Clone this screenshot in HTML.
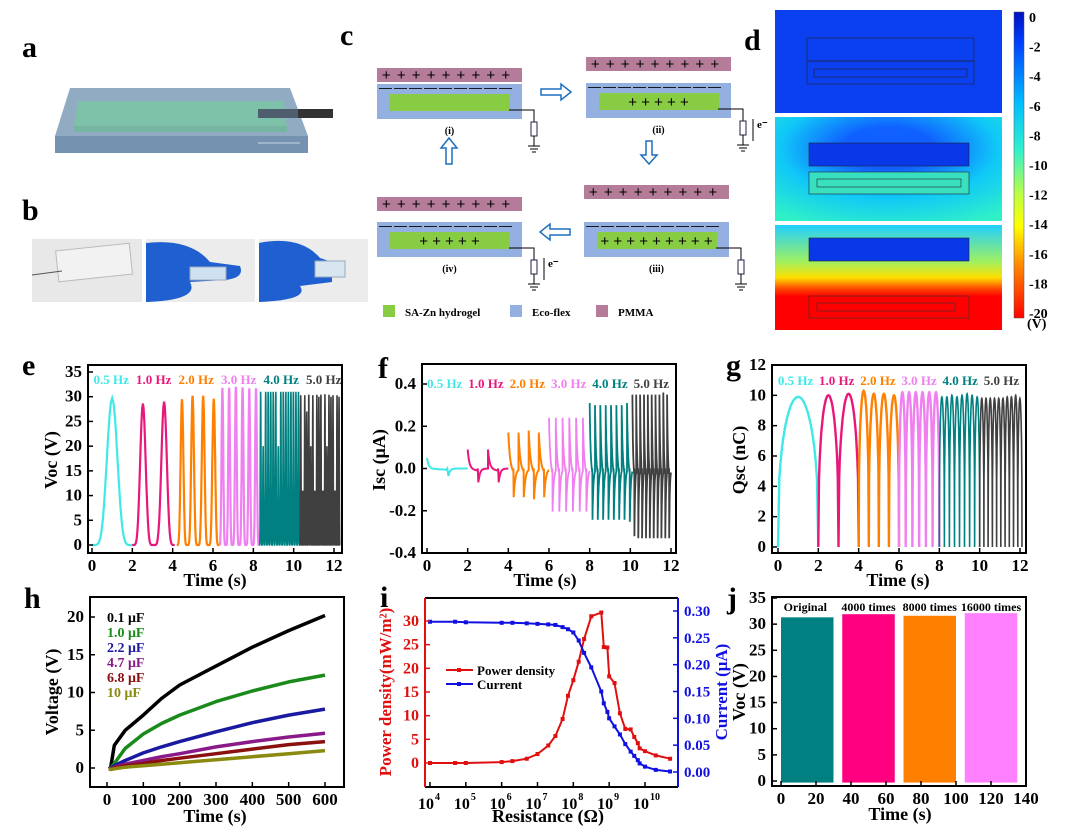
<!DOCTYPE html>
<html><head><meta charset="utf-8"><style>
html,body{margin:0;padding:0;background:#fff;}
svg{display:block;font-family:"Liberation Serif","Noto Serif CJK SC",serif;font-weight:bold;}
</style></head><body>
<svg id="fig" width="1080" height="832" viewBox="0 0 1080 832" xmlns="http://www.w3.org/2000/svg">
<rect width="1080" height="832" fill="#fff"/>
<g font-size="30">
<text x="22" y="57">a</text>
<text x="22" y="220">b</text>
<text x="340" y="45">c</text>
<text x="744" y="50">d</text>
<text x="22" y="375">e</text>
<text x="378" y="378">f</text>
<text x="726" y="375">g</text>
<text x="24" y="608">h</text>
<text x="380" y="607">i</text>
<text x="727" y="608">j</text>
</g>
<g>
<polygon points="70,88 290,88 308,136 55,136" fill="#7e9cb8" opacity="0.85"/>
<rect x="55" y="136" width="253" height="17" fill="#7593b0"/>
<polygon points="78,101 283,101 287,126 74,126" fill="#7dc2a8"/>
<rect x="74" y="126" width="213" height="6" fill="#78b4a2"/>
<rect x="258" y="109" width="75" height="9" fill="#333"/>
<rect x="258" y="109" width="40" height="9" fill="#5a7088" opacity="0.7"/>
<line x1="258" y1="143" x2="300" y2="143" stroke="#c8d4e0" stroke-width="1"/>
</g>
<g>
<rect x="32" y="239" width="110" height="63" fill="#e8e8e8"/>
<rect x="57" y="247" width="74" height="31" fill="#f2f2f2" stroke="#bbb" stroke-width="1" transform="rotate(-6 94 262)"/>
<line x1="32" y1="275" x2="62" y2="271" stroke="#555" stroke-width="1"/>
<rect x="146" y="239" width="109" height="63" fill="#ececec"/>
<path d="M146,243 Q190,238 210,262 L240,266 Q245,278 225,280 L190,282 Q200,300 146,302 Z" fill="#1f5fd0"/>
<rect x="190" y="267" width="36" height="13" fill="#cfe0f0" stroke="#9ab" stroke-width="1"/>
<rect x="259" y="239" width="109" height="63" fill="#ececec"/>
<path d="M259,243 Q300,235 320,258 L332,262 L332,282 L300,286 Q310,300 259,302 Z" fill="#1f5fd0"/>
<rect x="315" y="261" width="30" height="16" fill="#d8e6f2" stroke="#9ab" stroke-width="1"/>
</g>
<g id="schem"></g>
<defs>
<linearGradient id="jet" x1="0" y1="0" x2="0" y2="1">
<stop offset="0" stop-color="#0010c0"/><stop offset="0.1" stop-color="#0040ff"/><stop offset="0.3" stop-color="#00c0ff"/><stop offset="0.45" stop-color="#30f0d0"/><stop offset="0.6" stop-color="#c0ff40"/><stop offset="0.7" stop-color="#ffff00"/><stop offset="0.82" stop-color="#ff9000"/><stop offset="1" stop-color="#ff0000"/>
</linearGradient>
<radialGradient id="d2g" cx="0.5" cy="0.3" r="0.8"><stop offset="0.25" stop-color="#1060ff"/><stop offset="0.6" stop-color="#10c8f8"/><stop offset="1" stop-color="#30f0c8"/></radialGradient>
<linearGradient id="d3g" x1="0" y1="0" x2="0" y2="1"><stop offset="0" stop-color="#20d0ff"/><stop offset="0.35" stop-color="#a0f060"/><stop offset="0.5" stop-color="#ffe000"/><stop offset="0.6" stop-color="#ff5000"/><stop offset="0.68" stop-color="#ff0000"/><stop offset="1" stop-color="#ff0000"/></linearGradient>
</defs>
<g>
<rect x="775" y="10" width="227" height="103" fill="#0a40f0"/>
<rect x="807" y="38" width="167" height="23" fill="none" stroke="#223" stroke-width="0.6"/>
<rect x="807" y="61" width="167" height="23" fill="none" stroke="#223" stroke-width="0.6"/>
<rect x="814" y="69" width="153" height="8" fill="none" stroke="#223" stroke-width="0.6"/>
<rect x="775" y="117" width="227" height="104" fill="url(#d2g)"/>
<rect x="809" y="143" width="160" height="23" fill="#0838e8" stroke="#223" stroke-width="0.6"/>
<rect x="809" y="172" width="160" height="22" fill="#38e0c0" stroke="#223" stroke-width="0.6"/>
<rect x="817" y="179" width="144" height="8" fill="none" stroke="#223" stroke-width="0.6"/>
<rect x="775" y="225" width="227" height="105" fill="url(#d3g)"/>
<rect x="809" y="238" width="160" height="23" fill="#0838e8" stroke="#223" stroke-width="0.6"/>
<rect x="809" y="296" width="160" height="22" fill="none" stroke="#333" stroke-width="0.6"/>
<rect x="817" y="303" width="138" height="8" fill="none" stroke="#333" stroke-width="0.6"/>
<rect x="1014" y="12" width="10" height="306" fill="url(#jet)" stroke="#555" stroke-width="0.5"/>
<g id="cbticks" font-size="14"></g>
<text x="1027" y="328" font-size="14">(V)</text>
</g>
<g id="charts"></g>
</svg>
<script>
const freqLabels = ["0.5 Hz","1.0 Hz","2.0 Hz","3.0 Hz","4.0 Hz","5.0 Hz"];
const freqColors = ["#40e8e8","#e8187a","#ff8000","#f080f0","#008080","#404040"];
const segStarts = [0, 2, 4.2, 6.3, 8.3, 10.3];
const segEnds = [2, 4.1, 6.3, 8.3, 10.3, 12.3];
const vocPeaks = [[29.7],[28.6,29.0],[29.5,30.2,30.2,29.6],[31.8,31.8,32,31.9,31.7,31.7],
  [31,20,31,31,31,31,31,20,31,31,31,31,31,31,31,31],[30.3,11,30.3,27,30.4,20,30.3,11,30.4,30,30.4,11,30.5,20,30.4,30,30.3,11,30.3,30]];
const iscPos = [[0.05],[0.09,0.09],[0.17,0.17,0.18,0.17],[0.24,0.24,0.24,0.24,0.24,0.24],[0.31,0.3,0.3,0.3,0.3,0.3,0.3,0.31],[0.35,0.35,0.35,0.35,0.35,0.35,0.35,0.35,0.36,0.35]];
const iscNeg = [[-0.04],[-0.07,-0.07],[-0.14,-0.14,-0.15,-0.14],[-0.21,-0.21,-0.21,-0.21,-0.21,-0.21],[-0.25,-0.25,-0.25,-0.25,-0.25,-0.25,-0.25,-0.26],[-0.33,-0.34,-0.34,-0.34,-0.34,-0.34,-0.34,-0.34,-0.34,-0.34]];
const qscStarts = [0, 2, 4, 6, 8, 10];
const qscEnds = [2, 4, 6, 8, 10, 12.1];
const qscPeaks = [[9.9],[10,10.1],[10.3,10.1,10.1,10],[10.2,10.2,10.2,10.2,10.2,10.2],[9.9,9.9,10,9.9,10,10.1,10,9.9],[9.8,9.8,9.8,9.8,9.8,9.8,9.9,9.9,10,9.8]];
const capLabels = ["0.1 μF","1.0 μF","2.2 μF","4.7 μF","6.8 μF","10 μF"];
const capColors = ["#000000","#1a8a1a","#1a1aa0","#8a1a8a","#8a1010","#8a8a10"];
const capTimes = [10, 20, 50, 100, 150, 200, 300, 400, 500, 600];
const capV = [
 [0,3,5,7,9.2,11,13.5,16,18.2,20.2],
 [0,0.6,2.6,4.5,5.9,7,8.8,10.2,11.4,12.3],
 [0,0.3,1,2,2.8,3.5,4.8,6,7,7.8],
 [-0.1,0.1,0.5,1,1.5,1.9,2.8,3.5,4.1,4.6],
 [-0.1,0,0.3,0.6,1,1.3,1.9,2.5,3.1,3.5],
 [-0.2,-0.1,0.1,0.3,0.5,0.7,1.1,1.5,1.9,2.3]];
const resLog = [4,4.7,5,6,6.3,6.7,7,7.3,7.5,7.7,7.85,8,8.15,8.3,8.5,8.78,8.85,8.95,9,9.15,9.3,9.45,9.6,9.7,9.8,9.85,10,10.3,10.7];
const powerD = [0,0,0,0.2,0.4,0.9,1.9,3.7,5.7,9.3,14.2,17.5,21.4,26.2,31,31.8,24.5,24.4,18.3,16.9,10.5,7.2,7.1,5.5,4.2,3.1,2.5,1.6,0.9];
const currentA = [0.28,0.28,0.279,0.278,0.278,0.277,0.276,0.275,0.274,0.27,0.266,0.26,0.245,0.222,0.195,0.15,0.128,0.112,0.1,0.085,0.07,0.052,0.038,0.03,0.022,0.016,0.01,0.004,0.001];
const durLabels = ["Original","4000 times","8000 times","16000 times"];
const durColors = ["#008080","#ff0080","#ff8000","#ff80ff"];
const durStarts = [0, 35, 70, 105];
const durEnds = [30, 65, 100, 135];
const durPeaks = [31.3, 31.9, 31.6, 32.1];

const NS = "http://www.w3.org/2000/svg";
const charts = document.getElementById("charts");
function mk(tag, attrs, parent, txt){
  const e = document.createElementNS(NS, tag);
  for (const k in attrs) e.setAttribute(k, attrs[k]);
  if (txt !== undefined) e.textContent = txt;
  (parent || charts).appendChild(e);
  return e;
}
function lin(d0,d1,r0,r1){ return v => r0 + (v-d0)*(r1-r0)/(d1-d0); }
function frame(name){
  const g = mk("g", {});
  
  
  return g;
}
function box(g,x0,y0,x1,y1,color){
  const r = mk("rect",{x:x0,y:y0,width:x1-x0,height:y1-y0,fill:"none",stroke:color||"#000","stroke-width":2},g);
  
  
}
function yTicks(g, ticks, labels, sy, x, side, color, fs){
  ticks.forEach((t,i)=>{
    const y = sy(t);
    mk("line",{x1:x,y1:y,x2:x+(side<0?5:-5),y2:y,stroke:color,"stroke-width":1.5},g);
    const tx = mk("text",{x:side<0?x-6:x+6,y:y+5,"text-anchor":side<0?"end":"start","font-size":fs||17,fill:color},g,labels[i]);
    
    
  });
}
function xTicks(g, ticks, labels, sx, y, fs){
  ticks.forEach((t,i)=>{
    const x = sx(t);
    mk("line",{x1:x,y1:y,x2:x,y2:y-5,stroke:"#000","stroke-width":1.5},g);
    const tx = mk("text",{x:x,y:y+18,"text-anchor":"middle","font-size":fs||17},g,labels[i]);
    
    
  });
}
function axTitle(g, txt, x, y, rot, color, fs){
  const t = mk("text",{x:x,y:y,"text-anchor":"middle","font-size":fs||18,fill:color||"#000",transform:rot?`rotate(-90 ${x} ${y})`:""},g,txt);
  
  
  return t;
}
function legendRow(g, labels, colors, x0, x1, y, fs){
  const step = (x1-x0)/labels.length;
  labels.forEach((l,i)=>{
    const t = mk("text",{x:x0+step*i+step/2,y:y,"text-anchor":"middle","font-size":fs||13,fill:colors[i]},g,l);
    
    
  });
}

// e
(function(){
  const x0=88,y0=365,x1=342,y1=553;
  const sx = lin(0,12,92,334), sy = lin(0,35,545,372);
  const g = frame("voc-frequency-chart");
  segStarts.forEach((s,k)=>{
    const pk = vocPeaks[k], T = (segEnds[k]-s)/pk.length;
    let d="";
    pk.forEach((p,j)=>{
      const t0 = s + j*T;
      for(let n=0;n<=30;n++){
        const u=n/30, v = p*Math.pow((1-Math.cos(2*Math.PI*u))/2,3);
        d += (d?"L":"M")+sx(t0+u*T).toFixed(1)+","+sy(v).toFixed(1);
      }
    });
    const p = mk("path",{d:d,fill:"none",stroke:freqColors[k],"stroke-width":k>=4?1.6:2.2},g);
    
    
  });
  box(g,x0,y0,x1,y1);
  yTicks(g,[0,5,10,15,20,25,30,35],["0","5","10","15","20","25","30","35"],sy,x0,-1,"#000");
  xTicks(g,[0,2,4,6,8,10,12],["0","2","4","6","8","10","12"],sx,y1);
  axTitle(g,"Voc (V)",57,460,true);
  axTitle(g,"Time (s)",215,586,false);
  legendRow(g,freqLabels,freqColors,90,345,384,13);
})();

// f
(function(){
  const x0=422,y0=364,x1=676,y1=553;
  const sx = lin(0,12,427,671), sy = lin(-0.4,0.4,553,384);
  const g = frame("isc-frequency-chart");
  segStarts.forEach((s,k)=>{
    const pp = iscPos[k], nn = iscNeg[k];
    const s2 = [0,2,4,6,8,10.1][k], e2=[2,4,6,8,10.1,12][k];
    const T = (e2-s2)/pp.length;
    let d="";
    pp.forEach((p,j)=>{
      const t0 = s2 + j*T, tau = Math.min(0.08,T/6);
      for(let n=0;n<=40;n++){
        const u=n/40, t=u*T; let v;
        if (u<0.5) v = p*Math.exp(-t/tau) + (nn[j]*0.15)*(u/0.5);
        else if (u<0.52) v = nn[j]*((u-0.5)/0.02);
        else v = nn[j]*Math.exp(-(t-T*0.52)/tau);
        d += (d?"L":"M")+sx(t0+t).toFixed(1)+","+sy(v).toFixed(1);
      }
    });
    const p = mk("path",{d:d,fill:"none",stroke:freqColors[k],"stroke-width":k>=3?1.8:2},g);
    
    
  });
  box(g,x0,y0,x1,y1);
  yTicks(g,[-0.4,-0.2,0,0.2,0.4],["-0.4","-0.2","0.0","0.2","0.4"],sy,x0,-1,"#000");
  xTicks(g,[0,2,4,6,8,10,12],["0","2","4","6","8","10","12"],sx,y1);
  axTitle(g,"Isc (μA)",385,460,true);
  axTitle(g,"Time (s)",545,586,false);
  legendRow(g,freqLabels,freqColors,424,672,388,13);
})();

// g
(function(){
  const x0=772,y0=365,x1=1026,y1=553;
  const sx = lin(0,12,778,1020), sy = lin(0,12,547,365);
  const g = frame("qsc-frequency-chart");
  qscStarts.forEach((s,k)=>{
    const pk = qscPeaks[k], T=(qscEnds[k]-s)/pk.length;
    let d="";
    pk.forEach((p,j)=>{
      const t0=s+j*T;
      for(let n=0;n<=30;n++){
        const u=n/30, v=p*Math.pow(Math.sin(Math.PI*u),0.35);
        d += (d?"L":"M")+sx(t0+u*T).toFixed(1)+","+sy(v).toFixed(1);
      }
    });
    const p = mk("path",{d:d,fill:"none",stroke:freqColors[k],"stroke-width":k>=4?1.6:2.4},g);
    
    
  });
  box(g,x0,y0,x1,y1);
  yTicks(g,[0,2,4,6,8,10,12],["0","2","4","6","8","10","12"],sy,x0,-1,"#000");
  xTicks(g,[0,2,4,6,8,10,12],["0","2","4","6","8","10","12"],sx,y1);
  axTitle(g,"Qsc (nC)",745,460,true);
  axTitle(g,"Time (s)",898,586,false);
  legendRow(g,freqLabels,freqColors,775,1022,385,13);
})();

// h
(function(){
  const x0=90,y0=597,x1=344,y1=787;
  const sx = lin(0,600,107,325), sy = lin(0,20,768,617);
  const g = frame("capacitor-charging-chart");
  capV.forEach((vals,k)=>{
    let d = "M"+sx(5).toFixed(1)+","+sy(-0.1).toFixed(1);
    capTimes.forEach((t,i)=>{ d += "L"+sx(t).toFixed(1)+","+sy(vals[i]).toFixed(1); });
    const p = mk("path",{d:d,fill:"none",stroke:capColors[k],"stroke-width":3.5,"stroke-linejoin":"round"},g);
    
    
  });
  box(g,x0,y0,x1,y1);
  yTicks(g,[0,5,10,15,20],["0","5","10","15","20"],sy,x0,-1,"#000");
  xTicks(g,[0,100,200,300,400,500,600],["0","100","200","300","400","500","600"],sx,y1);
  axTitle(g,"Voltage (V)",58,692,true);
  axTitle(g,"Time (s)",215,822,false);
  capLabels.forEach((l,k)=>{
    const t = mk("text",{x:107,y:622+k*15,"font-size":14,fill:capColors[k]},g,l);
    
    
  });
})();

// i
(function(){
  const x0=425,y0=598,x1=678,y1=787;
  const sx = lin(4,10,430,645), sy = lin(0,30,763,621), sy2 = lin(0,0.3,772,611);
  const g = frame("power-current-resistance-chart");
  function series(vals, sc, color, name){
    let d="";
    resLog.forEach((r,i)=>{ d += (d?"L":"M")+sx(r).toFixed(1)+","+sc(vals[i]).toFixed(1); });
    const p = mk("path",{d:d,fill:"none",stroke:color,"stroke-width":2},g);
    
    
    resLog.forEach((r,i)=>{
      const m = mk("rect",{x:sx(r)-2,y:sc(vals[i])-2,width:4,height:4,fill:color},g);
      
      
    });
  }
  series(powerD, sy, "#e01010", "power-density-series");
  series(currentA, sy2, "#1010e0", "current-series");
  mk("line",{x1:x0,y1:y1,x2:x1,y2:y1,stroke:"#000","stroke-width":2},g);
  mk("line",{x1:x0,y1:y0,x2:x1,y2:y0,stroke:"#000","stroke-width":2},g);
  mk("line",{x1:x0,y1:y0,x2:x0,y2:y1,stroke:"#e01010","stroke-width":2},g);
  mk("line",{x1:x1,y1:y0,x2:x1,y2:y1,stroke:"#1010e0","stroke-width":2},g);
  yTicks(g,[0,5,10,15,20,25,30],["0","5","10","15","20","25","30"],sy,x0,-1,"#e01010",16);
  yTicks(g,[0,0.05,0.1,0.15,0.2,0.25,0.3],["0.00","0.05","0.10","0.15","0.20","0.25","0.30"],sy2,x1,1,"#1010e0",15);
  [4,5,6,7,8,9,10].forEach(e=>{
    const x = sx(e);
    mk("line",{x1:x,y1:y1,x2:x,y2:y1-5,stroke:"#000","stroke-width":1.5},g);
    const t = mk("text",{x:x-4,y:y1+22,"text-anchor":"middle","font-size":16},g,"10");
    
    
    mk("text",{x:x+5,y:y1+13,"text-anchor":"start","font-size":10},g,String(e));
  });
  axTitle(g,"Resistance (Ω)",548,822,false);
  axTitle(g,"Power density(mW/m²)",391,692,true,"#e01010",17);
  axTitle(g,"Current (μA)",727,692,true,"#1010e0",17);
  [["Power density","#e01010",670],["Current","#1010e0",684]].forEach(([l,c,y])=>{
    mk("line",{x1:446,y1:y,x2:473,y2:y,stroke:c,"stroke-width":2},g);
    mk("rect",{x:457,y:y-2,width:4,height:4,fill:c},g);
    const t = mk("text",{x:477,y:y+5,"font-size":13},g,l);
    
    
  });
})();

// j
(function(){
  const x0=772,y0=597,x1=1026,y1=786;
  const sx = lin(0,140,781,1026), sy = lin(0,35,781,598);
  const g = frame("durability-chart");
  durStarts.forEach((s,k)=>{
    const r = mk("rect",{x:sx(s),y:sy(durPeaks[k]),width:sx(durEnds[k])-sx(s),height:sy(-0.3)-sy(durPeaks[k]),fill:durColors[k]},g);
    
    
    const t = mk("text",{x:(sx(s)+sx(durEnds[k]))/2+(k===0?-2:0),y:611,"text-anchor":"middle","font-size":12},g,durLabels[k]);
    
    
  });
  box(g,x0,y0,x1,y1);
  yTicks(g,[0,5,10,15,20,25,30,35],["0","5","10","15","20","25","30","35"],sy,x0,-1,"#000");
  xTicks(g,[0,20,40,60,80,100,120,140],["0","20","40","60","80","100","120","140"],sx,y1);
  axTitle(g,"Voc (V)",745,692,true);
  axTitle(g,"Time (s)",900,820,false);
})();

// colorbar
(function(){
  const g = document.getElementById("cbticks");
  const cbVals = [0,-2,-4,-6,-8,-10,-12,-14,-16,-18,-20];
  const sy = lin(0,-20,17,313);
  cbVals.forEach(v=>{
    const t = mk("text",{x:1029,y:sy(v)+5},g,String(v));
    
    
  });
})();

// schematic
(function(){
  const g = document.getElementById("schem");
  function stage(x, pm, ey, plusTop, nGreenPlus, label, eArrow){
    const w=145;
    mk("rect",{x:x,y:pm,width:w,height:14,fill:"#b57c9a"},g);
    mk("text",{x:x+w/2-3,y:pm+12,"text-anchor":"middle","font-size":15,"font-family":"Liberation Sans, sans-serif","font-weight":"normal","letter-spacing":"1"},g,plusTop);
    mk("rect",{x:x,y:ey,width:w,height:35,fill:"#94b0e0"},g);
    mk("text",{x:x+w/2-3,y:ey+8,"text-anchor":"middle","font-size":13,"font-family":"Liberation Sans, sans-serif","font-weight":"normal","letter-spacing":"2"},g,"— — — — — — — — —".replace(/ /g,""));
    mk("rect",{x:x+13,y:ey+10,width:w-25,height:17,fill:"#88cc44"},g);
    if(nGreenPlus) mk("text",{x:x+w/2,y:ey+24,"text-anchor":"middle","font-size":15,"font-family":"Liberation Sans, sans-serif","font-weight":"normal"},g,nGreenPlus);
    mk("path",{d:`M${x+w-13},${ey+26} H${x+w+12} V${ey+38}`,fill:"none",stroke:"#000","stroke-width":1},g);
    mk("rect",{x:x+w+9,y:ey+38,width:6,height:14,fill:"#fff",stroke:"#224","stroke-width":1},g);
    mk("path",{d:`M${x+w+12},${ey+52} V${ey+62} M${x+w+6},${ey+62} H${x+w+18} M${x+w+8},${ey+65} H${x+w+16} M${x+w+10},${ey+68} H${x+w+14}`,fill:"none",stroke:"#000","stroke-width":1},g);
    mk("text",{x:x+w/2,y:ey+50,"text-anchor":"middle","font-size":10},g,label);
    if(eArrow){
      mk("line",{x1:x+w+22,y1:eArrow>0?ey+36:ey+58,x2:x+w+22,y2:eArrow>0?ey+58:ey+36,stroke:"#000","stroke-width":1},g);
      mk("text",{x:x+w+26,y:ey+45,"font-size":11},g,"e⁻");
    }
  }
  stage(377,68,84,"+ + + + + + + + +","", "(i)",0);
  stage(586,57,83,"+ + + + + + + + +","+ + + + +", "(ii)",1);
  stage(584,185,222,"+ + + + + + + + +","+ + + + + + + + +", "(iii)",0);
  stage(377,197,222,"+ + + + + + + + +","+ + + + +", "(iv)",-1);
  const ar = "fill:#fff;stroke:#1e6fc0;stroke-width:1.5";
  mk("path",{d:"M541,89 h20 v-5 l10,8 l-10,8 v-5 h-20 z",style:ar},g);
  mk("path",{d:"M646,141 v14 h-5 l8,9 l8,-9 h-5 v-14 z",style:ar},g);
  mk("path",{d:"M570,229 h-20 v-5 l-10,8 l10,8 v-5 h20 z",style:ar},g);
  mk("path",{d:"M446,164 v-16 h-5 l8,-10 l8,10 h-5 v16 z",style:ar},g);
  [["SA-Zn hydrogel","#88cc44",399],["Eco-flex","#94b0e0",526],["PMMA","#b57c9a",612]].forEach(([l,c,x])=>{
    mk("rect",{x:x-16,y:305,width:12,height:12,fill:c},g);
    const t = mk("text",{x:x+6,y:316,"font-size":11},g,l);
    
    
  });
})();
</script>
</body></html>
